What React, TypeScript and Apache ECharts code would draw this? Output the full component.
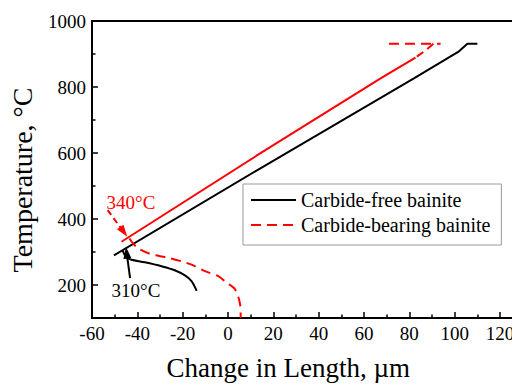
import React, { useEffect, useRef } from "react";
import * as echarts from "echarts";

// Carbide-free bainite (black)
const blackMain: number[][] = [[110, 931], [105.6, 931], [101.9, 908], [82, 826], [12.4, 546], [-50.3, 290]];
const blackBranch: number[][] = [[-46.5, 305], [-45.5, 290], [-44.3, 281], [-42.6, 276.7], [-36.7, 268.7], [-29.3, 256.7], [-23.5, 244.8], [-19, 229], [-16.1, 212], [-13.8, 182]];
// Carbide-bearing bainite (red)
const redTopFlat: number[][] = [[71, 931], [93.8, 931]];
const redTopDiag: number[][] = [[90.6, 931], [87.2, 911], [82.7, 889]];
const redMain: number[][] = [[82.7, 889], [67.3, 826], [12.4, 591], [-47, 331]];
const redBranch: number[][] = [[-43.5, 341], [-41.9, 326], [-39.7, 311], [-34.5, 294.6], [-30.8, 288.6], [-25.7, 281.5], [-20.5, 271.6], [-16.1, 261.8], [-10.2, 241.8], [-4.3, 226.9], [-0.6, 206.9], [3.1, 187.2], [5.3, 142.4], [5.6, 100]];

const yLabelValues = [200, 400, 600, 800, 1000];
const yMinorValues = [300, 500, 700, 900];

// annotation arrows: [start, end] and arrowhead centre
const redArrow = [[-53.1, 427], [-45.5, 356]];
const redHead = [-46.0, 361];
const blackArrow = [[-43.2, 221], [-44.6, 292]];
const blackHead = [-44.7, 298];
const redNote = { text: "340°C", at: [-42.8, 451] };
const blackNote = { text: "310°C", at: [-40.6, 182] };

const FONT = "Liberation Serif";
const RED = "#ff0000";

export default function App() {
  const ref = useRef<HTMLDivElement>(null);
  useEffect(() => {
    if (!ref.current) return;
    const chart = echarts.init(ref.current, null, { renderer: "svg" });
    const baseLine = (name: string, data: number[][], color: string, type: any, smooth: number | boolean = false) => ({
      name,
      type: "line",
      data,
      symbol: "none",
      showSymbol: false,
      smooth,
      lineStyle: { color, width: 2, type },
      itemStyle: { color },
      z: 3,
    });
    const noteMarkPoint = (note: { text: string; at: number[] }, color: string) => ({
      symbol: "circle",
      symbolSize: 1,
      itemStyle: { color: "rgba(0,0,0,0)" },
      label: {
        show: true,
        position: "inside",
        formatter: note.text,
        color,
        fontSize: 19,
        fontFamily: FONT,
      },
      data: [{ coord: note.at }],
    });
    const arrowLine = (pts: number[][], color: string, type: any) => ({
      silent: true,
      symbol: ["none", "none"],
      label: { show: false },
      lineStyle: { color, width: 2, type },
      data: [[{ coord: pts[0] }, { coord: pts[1] }]],
    });
    const head = (name: string, at: number[], color: string, rotate: number) => ({
      name,
      type: "scatter",
      data: [at],
      symbol: "triangle",
      symbolSize: [8, 12],
      symbolRotate: rotate,
      itemStyle: { color, opacity: 1 },
      z: 6,
      silent: true,
    });
    chart.setOption({
      animation: false,
      textStyle: { fontFamily: FONT, color: "#000" },
      grid: {
        left: 92,
        top: 21,
        height: 301,
        width: 430.7,
        show: true,
        borderColor: "#000",
        borderWidth: 2,
        backgroundColor: "transparent",
      },
      legend: {
        orient: "vertical",
        left: 243,
        top: 184,
        padding: [6, 11, 10, 7],
        itemWidth: 45,
        itemHeight: 14,
        itemGap: 5,
        borderColor: "#999",
        borderWidth: 1,
        selectedMode: false,
        itemStyle: { color: "rgba(0,0,0,0)", borderWidth: 0, opacity: 0 },
        data: ["Carbide-free bainite", "Carbide-bearing bainite"],
        textStyle: { fontSize: 20, fontFamily: FONT, color: "#000", lineHeight: 20 },
      },
      xAxis: {
        type: "value",
        min: -60,
        max: 130,
        interval: 20,
        name: "Change in Length, µm",
        nameLocation: "middle",
        nameGap: 36,
        nameTextStyle: { fontSize: 27, fontFamily: FONT, color: "#000", padding: [0, 38, 0, 0] },
        axisLine: { onZero: false, lineStyle: { color: "#000", width: 2 } },
        axisTick: { inside: true, length: 6, lineStyle: { color: "#000", width: 1.5 } },
        minorTick: { show: true, splitNumber: 2, length: 3.5, lineStyle: { color: "#000", width: 1.5 } },
        splitLine: { show: false },
        axisLabel: { fontSize: 19, fontFamily: FONT, color: "#000", margin: 6, showMaxLabel: false, formatter: (v: number) => String(v) },
      },
      yAxis: [
        {
          type: "value",
          min: 100,
          max: 1000,
          name: "Temperature, °C",
          nameLocation: "middle",
          nameGap: 56,
          nameTextStyle: { fontSize: 28, fontFamily: FONT, color: "#000", padding: [0, 21, 0, 0] },
          axisLine: { onZero: false, lineStyle: { color: "#000", width: 2 } },
          axisTick: { inside: true, length: 6, customValues: yLabelValues, lineStyle: { color: "#000", width: 1.5 } },
          splitLine: { show: false },
          axisLabel: { fontSize: 19, fontFamily: FONT, color: "#000", margin: 6, customValues: yLabelValues, formatter: (v: number) => String(v) },
        },
        {
          type: "value",
          min: 100,
          max: 1000,
          position: "left",
          axisLine: { show: false, onZero: false },
          axisTick: { show: true, inside: true, length: 3.5, customValues: yMinorValues, lineStyle: { color: "#000", width: 1.5 } },
          axisLabel: { show: false },
          splitLine: { show: false },
        },
      ],
      series: [
        {
          ...baseLine("Carbide-free bainite", blackMain, "#000", "solid"),
          markPoint: noteMarkPoint(blackNote, "#000"),
          markLine: arrowLine(blackArrow, "#000", "solid"),
        },
        baseLine("cf-branch", blackBranch, "#000", "solid", 0.3),
        {
          ...baseLine("Carbide-bearing bainite", redBranch, RED, [10, 6], 0.3),
          markPoint: noteMarkPoint(redNote, RED),
          markLine: arrowLine(redArrow, RED, [6, 4]),
        },
        baseLine("cb-main", redMain, RED, "solid"),
        baseLine("cb-top", redTopFlat, RED, [10, 6]),
        baseLine("cb-diag", redTopDiag, RED, [8, 5]),
        head("red-head", redHead, RED, 216),
        head("black-head", blackHead, "#000", 7),
      ],
    });
    return () => chart.dispose();
  }, []);
  return (
    <div style={{ position: "fixed", left: 0, top: 0, width: 512, height: 386, overflow: "hidden", background: "#fff" }}>
      <div ref={ref} style={{ width: 560, height: 386 }} />
    </div>
  );
}
